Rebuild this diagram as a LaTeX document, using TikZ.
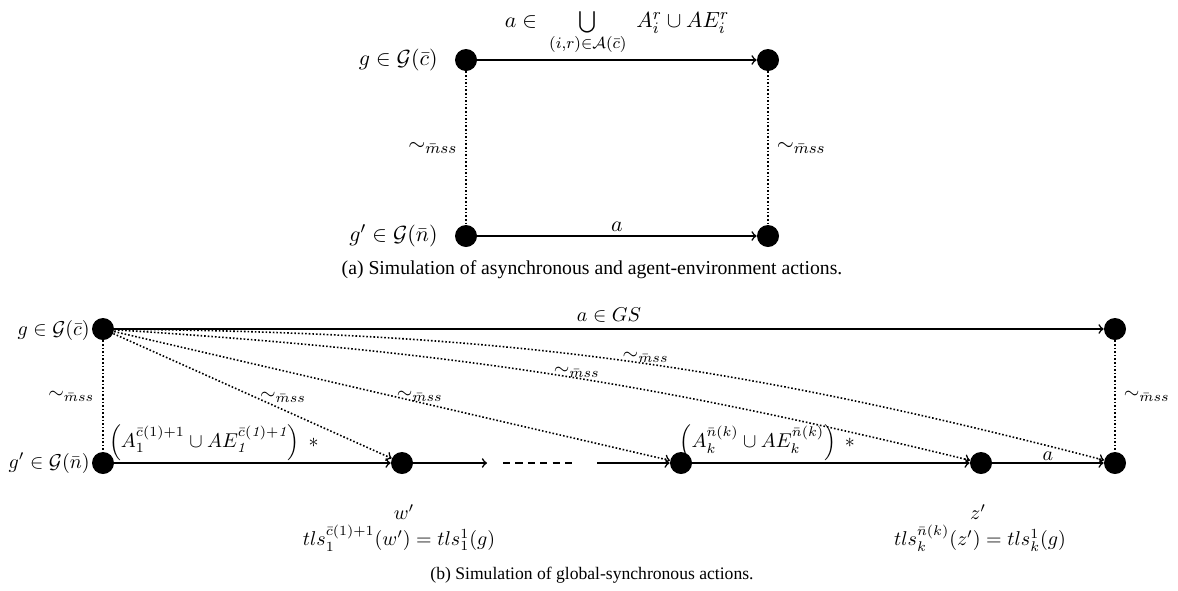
\documentclass[tikz,border=0pt]{standalone}
\usepackage{amsmath,amssymb}
\usepackage{fontspec}
\newfontfamily\capfont{Liberation Serif}
\usetikzlibrary{calc}
\tikzset{
  dot/.style={circle,fill=black,draw=none,minimum size=11pt,inner sep=0pt},
  solidarrow/.style={line width=0.8pt,->},
  dotline/.style={line width=0.8pt,dash pattern=on 0.8pt off 1pt},
  dotarrow/.style={dotline,->},
  mA/.style={font=\fontsize{10.8}{13}\selectfont,inner sep=1pt},
  mB/.style={font=\fontsize{10}{12}\selectfont,inner sep=1pt},
  caption/.style={font=\capfont,inner sep=0pt},
}
\begin{document}
\begin{tikzpicture}[x=0.5pt,y=-0.5pt]
\useasboundingbox (0,0) rectangle (1178,590);
% ---------------- (a)
\node[dot] (ga) at (466,60) {};
\node[dot] (gb) at (768,60) {};
\node[dot] (na) at (466,236) {};
\node[dot] (nb) at (768,236) {};
\node[mA,anchor=east] (gal) at (440,60) {$g\in\mathcal{G}(\bar c)$};
\node[mA,anchor=east] (nal) at (440,236) {$g'\in\mathcal{G}(\bar n)$};
\draw[solidarrow] (ga) -- (gb) node[mA,midway,above=1.2pt] (ul) {$a\in\;\bigcup\limits_{(i,r)\in\mathcal{A}(\bar c)}\; A_i^r\cup AE_i^r$};
\draw[solidarrow] (na) -- (nb) node[mA,midway,above=1pt] (al) {$a$};
\draw[dotline] (ga) -- (na) node[mA,midway,left=3pt] (sl) {$\sim_{\bar m ss}$};
\draw[dotline] (gb) -- (nb) node[mA,midway,right=3pt] (sr) {$\sim_{\bar m ss}$};
\node[caption,font=\capfont\fontsize{9.85}{12}\selectfont] (capa) at (592,270) {(a) Simulation of asynchronous and agent-environment actions.};
% ---------------- (b)
\node[dot] (g) at (103,329) {};
\node[dot] (gp) at (103,463) {};
\node[dot] (w) at (402,463) {};
\node[dot] (k) at (681,463) {};
\node[dot] (z) at (981,463) {};
\node[dot] (tr) at (1115,329) {};
\node[dot] (br) at (1115,463) {};
\coordinate (c1) at (487,463);
\coordinate (c2) at (503,463);
\coordinate (c3) at (577,463);
\coordinate (c4) at (597,463);
\node[mB,anchor=east] (gl) at (92,330) {$g\in\mathcal{G}(\bar c)$};
\node[mB,anchor=east] (gpl) at (92,463) {$g'\in\mathcal{G}(\bar n)$};
\draw[solidarrow] (g) -- (tr) node[mB,midway,above=2pt] (gsl) {$a\in GS$};
\draw[dotline] (g) -- (gp) node[mB,midway,left=3pt] (bsl) {$\sim_{\bar m ss}$};
\draw[dotline] (tr) -- (br) node[mB,midway,right=3pt] (bsr) {$\sim_{\bar m ss}$};
\draw[solidarrow] (gp) -- (w) node[mB,pos=0.36,above=0pt] (l1) {$\left(A_1^{\bar c(1)+1}\cup AE_{\mathit{1}}^{\bar c(\mathit{1})+\mathit{1}}\right)\;{*}$};
\draw[solidarrow] (w) -- (c1);
\draw[line width=0.8pt,dash pattern=on 3.6pt off 2.6pt] (c2) -- (c3);
\draw[solidarrow] (c4) -- (k);
\draw[solidarrow] (k) -- (z) node[mB,pos=0.27,above=0pt] (l2) {$\left(A_k^{\bar n(k)}\cup AE_k^{\bar n(k)}\right)\;{*}$};
\draw[solidarrow] (z) -- (br) node[mB,midway,above=0pt] (l3) {$a$};
\draw[dotarrow] (g) -- (w) node[mB,pos=0.61,yshift=6pt] (d1) {$\sim_{\bar m ss}$};
\draw[dotarrow] (g) -- (k) node[mB,pos=0.55,yshift=3pt] (d2) {$\sim_{\bar m ss}$};
\draw[dotarrow] (g) to[bend left=5] node[mB,pos=0.54,yshift=3pt] (d3) {$\sim_{\bar m ss}$} (z);
\draw[dotarrow] (g) to[bend left=7] node[mB,pos=0.535,yshift=3pt] (d4) {$\sim_{\bar m ss}$} (br);
\node[mB] (wl) at (404,512) {$w'$};
\node[mB] (wt) at (399,538) {$tls_1^{\bar c(1)+1}(w')=tls_1^1(g)$};
\node[mB] (zl) at (978,512) {$z'$};
\node[mB] (zt) at (980,538) {$tls_k^{\bar n(k)}(z')=tls_k^1(g)$};
\node[caption,font=\capfont\fontsize{8.8}{10.5}\selectfont] (capb) at (592,575) {(b) Simulation of global-synchronous actions.};
\end{tikzpicture}
\end{document}
